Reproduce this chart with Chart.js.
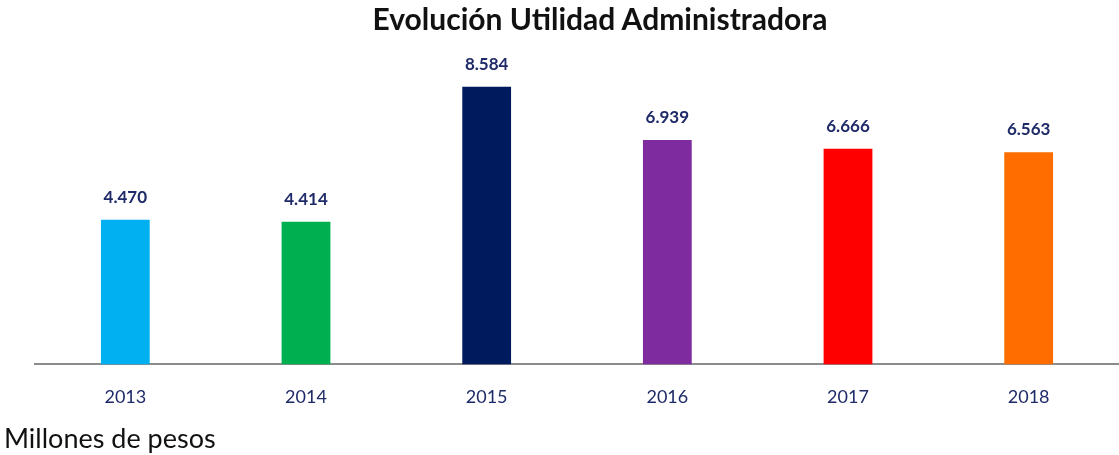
<!DOCTYPE html>
<html>
<head>
<meta charset="utf-8">
<script src="https://cdn.jsdelivr.net/npm/chart.js@4"></script>
<style>
  html, body { margin: 0; padding: 0; background: #fff; }
  #wrap { position: relative; width: 1119px; height: 455px; }
  #title { position: absolute; left: 144px; width: 912px; top: 0px; text-align: center; font-family: Lato, "Open Sans", sans-serif; font-weight: bold; font-size: 30px; line-height: 36px; color: #111; }
  #footer { position: absolute; left: 4px; top: 422px; font-family: Lato, "Open Sans", sans-serif; font-size: 27px; line-height: 32px; color: #111; }
</style>
</head>
<body>
<div id="wrap">
  <canvas id="c" width="1119" height="455"></canvas>
  <div id="title">Evolución Utilidad Administradora</div>
  <div id="footer">Millones de pesos</div>
</div>
<script>
const categories = ["2013", "2014", "2015", "2016", "2017", "2018"];
const values = [4.470, 4.414, 8.584, 6.939, 6.666, 6.563];
const valueLabels = ["4.470", "4.414", "8.584", "6.939", "6.666", "6.563"];
const barColors = ["#00B0F0", "#00B050", "#001A5E", "#7E2BA0", "#FF0000", "#FF6D00"];

const labelPlugin = {
  id: 'valueLabels',
  afterDatasetsDraw(chart) {
    const ctx = chart.ctx;
    const meta = chart.getDatasetMeta(0);
    ctx.save();
    ctx.font = 'bold 17px Lato, "Open Sans", sans-serif';
    ctx.fillStyle = '#1F2A68';
    ctx.textAlign = 'center';
    ctx.textBaseline = 'bottom';
    meta.data.forEach((bar, i) => {
      ctx.fillText(valueLabels[i], bar.x, bar.y - 14);
    });
    ctx.restore();
  }
};

new Chart(document.getElementById('c'), {
  type: 'bar',
  data: {
    labels: categories,
    datasets: [{
      data: values,
      backgroundColor: barColors,
      borderWidth: 0,
      categoryPercentage: 1,
      barPercentage: 0.27
    }]
  },
  options: {
    responsive: false,
    animation: false,
    layout: { padding: { left: 35, right: 0, top: 41, bottom: 25 } },
    plugins: {
      legend: { display: false },
      tooltip: { enabled: false },
      title: { display: false }
    },
    scales: {
      x: {
        grid: { display: false, drawTicks: false },
        border: { display: true, color: '#8C8C8C', width: 2 },
        ticks: {
          color: '#1F2A68',
          font: { family: 'Lato, "Open Sans", sans-serif', size: 18 },
          padding: 22
        }
      },
      y: {
        display: false,
        min: 0,
        max: 10
      }
    }
  },
  plugins: [labelPlugin]
});
</script>
</body>
</html>
